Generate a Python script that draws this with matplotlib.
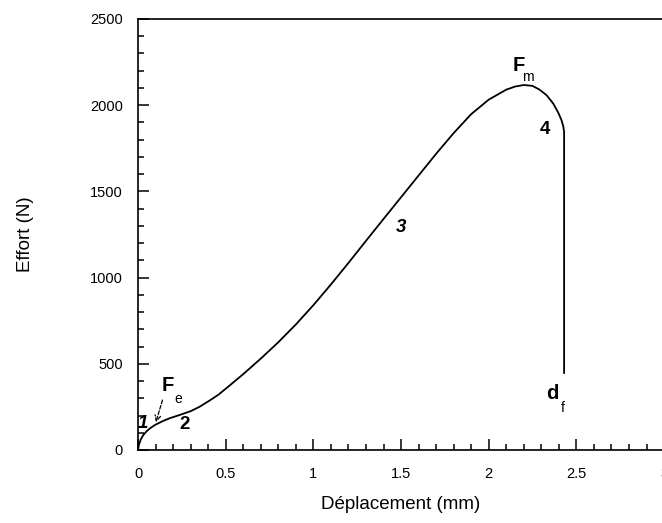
import matplotlib.pyplot as plt
from matplotlib.ticker import MultipleLocator

plt.rcParams['font.family'] = ['Liberation Sans', 'DejaVu Sans']

# courbe effort / deplacement
depl = [0, 0.005, 0.015, 0.03, 0.05, 0.07, 0.10, 0.14, 0.18, 0.24, 0.30, 0.35, 0.41,
        0.46, 0.52, 0.60, 0.70, 0.80, 0.90, 1.00, 1.10, 1.20, 1.30, 1.40, 1.50,
        1.60, 1.70, 1.80, 1.90, 2.00, 2.10, 2.15, 2.20, 2.25, 2.29, 2.33, 2.367,
        2.395, 2.415, 2.425, 2.43, 2.43]
effort = [0, 30, 60, 87, 110, 127, 147, 167, 184, 204, 225, 250, 288,
          322, 372, 440, 530, 625, 728, 840, 960, 1085, 1213, 1340, 1466,
          1592, 1718, 1838, 1948, 2032, 2090, 2108, 2117, 2112, 2090, 2058, 2011,
          1960, 1914, 1878, 1846, 447]

labels = [('1', 0.03, 155, 'italic'), ('2', 0.268, 150, 'normal'),
          ('3', 1.50, 1290, 'italic'), ('4', 2.32, 1860, 'normal')]

fig = plt.figure(figsize=(6.62, 5.23), dpi=100)
ax = fig.add_axes([0.2085, 0.1396, 0.7946, 0.8241])

ax.plot(depl, effort, color='black', lw=1.3)

ax.set_xlim(0, 3)
ax.set_ylim(0, 2500)
ax.xaxis.set_major_locator(MultipleLocator(0.5))
ax.xaxis.set_minor_locator(MultipleLocator(0.1))
ax.yaxis.set_major_locator(MultipleLocator(500))
ax.yaxis.set_minor_locator(MultipleLocator(100))
ax.tick_params(which='both', direction='in', labelsize=10.5, width=1.1)
ax.tick_params(axis='x', pad=12)
ax.tick_params(axis='y', pad=11)
ax.tick_params(which='major', length=8)
ax.tick_params(which='minor', length=4)
ax.set_xticks([0, 0.5, 1, 1.5, 2, 2.5, 3])
ax.set_xticklabels(['0', '0.5', '1', '1.5', '2', '2.5', '3'])
for s in ax.spines.values():
    s.set_linewidth(1.2)

ax.set_xlabel('Déplacement (mm)', fontsize=13.5, labelpad=11)
ax.set_ylabel('Effort (N)', fontsize=13.5, labelpad=40)

for txt, x, y, st in labels:
    ax.text(x, y, txt, fontsize=13.5, fontweight='bold', style=st, ha='center', va='center')

# F_e, F_m, d_f
ax.text(0.168, 372, 'F', fontsize=14.5, fontweight='bold', ha='center', va='center')
ax.text(0.232, 298, 'e', fontsize=10, ha='center', va='center')
ax.annotate('', xy=(0.097, 145), xytext=(0.144, 305),
            arrowprops=dict(arrowstyle='->', color='black', lw=0.9, ls=(0, (3, 1.5))))
ax.text(2.17, 2232, 'F', fontsize=14.5, fontweight='bold', ha='center', va='center')
ax.text(2.225, 2163, 'm', fontsize=10, ha='center', va='center')
ax.text(2.36, 330, 'd', fontsize=14.5, fontweight='bold', ha='center', va='center')
ax.text(2.42, 243, 'f', fontsize=10, ha='center', va='center')

fig.savefig('out.png', dpi=100)
